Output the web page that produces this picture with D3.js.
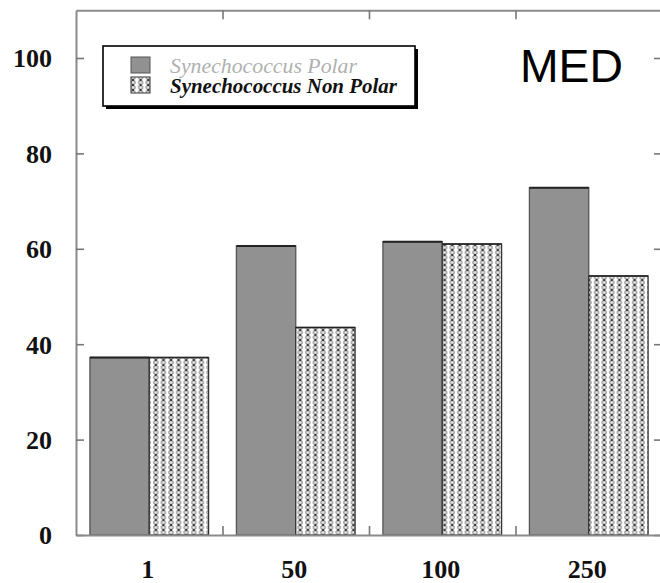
<!DOCTYPE html>
<html><head><meta charset="utf-8">
<script src="https://cdn.jsdelivr.net/npm/d3@7"></script>
<style>body{margin:0;background:#fff}svg{display:block}</style>
</head><body>
<svg id="c" width="660" height="583"></svg>
<script>
const categories = ["1", "50", "100", "250"];
const polar = [37.2, 60.6, 61.5, 72.8];
const nonPolar = [37.2, 43.5, 61.0, 54.3];
const yTicks = [0, 20, 40, 60, 80, 100];
const seriesNames = ["Synechococcus Polar", "Synechococcus Non Polar"];
const panelLabel = "MED";

const svg = d3.select("#c");
const L = 76, R = 662, T = 10.3, B = 535;
const x = d3.scaleBand().domain(categories).range([L, R]).padding(0);
const y = d3.scaleLinear().domain([0, 110]).range([B, T]);

const defs = svg.append("defs");
const pw = 7.6, ph = 5;
const pat = defs.append("pattern").attr("id", "dots").attr("patternUnits", "userSpaceOnUse")
  .attr("width", pw).attr("height", ph);
pat.append("rect").attr("width", pw).attr("height", ph).attr("fill", "#fff");
pat.append("ellipse").attr("cx", pw / 2).attr("cy", ph / 2).attr("rx", 2.1).attr("ry", 1.9)
  .attr("fill", "#e6e6e6").attr("stroke", "#8c8c8c").attr("stroke-width", 1.1);
pat.append("circle").attr("cx", pw / 2).attr("cy", 0).attr("r", 1).attr("fill", "#222");
pat.append("circle").attr("cx", pw / 2).attr("cy", ph).attr("r", 1).attr("fill", "#222");

const bw = x.bandwidth();
const barW = bw * 0.405;
const off = (bw - 2 * barW) / 2;

// bars
const g = svg.append("g");
g.selectAll("rect.p").data(categories).join("rect").attr("class", "p")
  .attr("x", d => x(d) + off).attr("width", barW)
  .attr("y", (d, i) => y(polar[i])).attr("height", (d, i) => B - y(polar[i]))
  .attr("fill", "#919191").attr("stroke", "#555").attr("stroke-width", 1.3);
g.selectAll("rect.n").data(categories).join("rect").attr("class", "n")
  .attr("x", d => x(d) + off + barW).attr("width", barW)
  .attr("y", (d, i) => y(nonPolar[i])).attr("height", (d, i) => B - y(nonPolar[i]))
  .attr("fill", "url(#dots)").attr("stroke", "#333").attr("stroke-width", 1.3);
// darker top edges
g.selectAll("line.pt").data(categories).join("line").attr("class", "pt")
  .attr("x1", d => x(d) + off).attr("x2", d => x(d) + off + barW)
  .attr("y1", (d, i) => y(polar[i])).attr("y2", (d, i) => y(polar[i]))
  .attr("stroke", "#222").attr("stroke-width", 2);
g.selectAll("line.nt").data(categories).join("line").attr("class", "nt")
  .attr("x1", d => x(d) + off + barW).attr("x2", d => x(d) + off + 2 * barW)
  .attr("y1", (d, i) => y(nonPolar[i])).attr("y2", (d, i) => y(nonPolar[i]))
  .attr("stroke", "#222").attr("stroke-width", 1.6);

// axes frame
const frameColor = "#8a8a8a";
function styleAxis(sel) {
  sel.selectAll(".domain").attr("stroke", frameColor).attr("stroke-width", 2);
  sel.selectAll(".tick line").attr("stroke", "#777").attr("stroke-width", 1.6);
}
const yAxis = svg.append("g").attr("transform", `translate(${L},0)`)
  .call(d3.axisLeft(y).tickValues(yTicks).tickSize(-8).tickSizeOuter(0).tickPadding(24));
styleAxis(yAxis);
yAxis.selectAll("text").attr("font-family", "Liberation Serif, Times New Roman, serif")
  .attr("font-weight", "bold").attr("font-size", 26).attr("fill", "#111").attr("dy", "0.34em");

const yAxisR = svg.append("g").attr("transform", `translate(${R},0)`)
  .call(d3.axisRight(y).tickValues(yTicks).tickSize(-8).tickSizeOuter(0).tickFormat(""));
styleAxis(yAxisR);
yAxisR.select(".domain").attr("stroke", "none");

const xEdges = x.domain().map(d => x(d));
const xb = d3.scaleLinear().domain([L, R]).range([L, R]);
const edgeTicks = xEdges.slice(1);
const xAxisB = svg.append("g").attr("transform", `translate(0,${B})`)
  .call(d3.axisBottom(xb).tickValues(edgeTicks).tickSize(-9).tickSizeOuter(0).tickFormat(""));
styleAxis(xAxisB);
const xAxisT = svg.append("g").attr("transform", `translate(0,${T})`)
  .call(d3.axisTop(xb).tickValues(edgeTicks).tickSize(-9).tickSizeOuter(0).tickFormat(""));
styleAxis(xAxisT);

// category labels
svg.append("g").selectAll("text").data(categories).join("text")
  .attr("x", d => x(d) + bw / 2 - 1.5).attr("y", 578)
  .attr("text-anchor", "middle")
  .attr("font-family", "Liberation Serif, Times New Roman, serif")
  .attr("font-weight", "bold").attr("font-size", 26).attr("fill", "#111")
  .text(d => d);

// legend
const lg = svg.append("g");
lg.append("rect").attr("x", 106).attr("y", 49).attr("width", 312).attr("height", 60).attr("fill", "#000");
lg.append("rect").attr("x", 103).attr("y", 46).attr("width", 312).attr("height", 60)
  .attr("fill", "#fff").attr("stroke", "#000").attr("stroke-width", 1.6);
lg.append("rect").attr("x", 131).attr("y", 57).attr("width", 19).attr("height", 16)
  .attr("fill", "#919191").attr("stroke", "#555").attr("stroke-width", 1);
lg.append("rect").attr("x", 131).attr("y", 77).attr("width", 19).attr("height", 16)
  .attr("fill", "url(#dots)").attr("stroke", "#333").attr("stroke-width", 1);
lg.append("text").attr("x", 170).attr("y", 72.5)
  .attr("font-family", "Liberation Serif, Times New Roman, serif").attr("font-style", "italic")
  .attr("font-size", 20).attr("fill", "#b0b0b0").attr("textLength", 187).attr("lengthAdjust", "spacingAndGlyphs")
  .text(seriesNames[0]);
lg.append("text").attr("x", 170).attr("y", 92.5)
  .attr("font-family", "Liberation Serif, Times New Roman, serif").attr("font-style", "italic")
  .attr("font-weight", "bold")
  .attr("font-size", 20).attr("fill", "#111").attr("textLength", 227).attr("lengthAdjust", "spacingAndGlyphs")
  .text(seriesNames[1]);

svg.append("text").attr("x", 520).attr("y", 82)
  .attr("font-family", "Liberation Sans, Arial, sans-serif").attr("font-size", 47).attr("fill", "#000")
  .attr("textLength", 103).attr("lengthAdjust", "spacingAndGlyphs")
  .text(panelLabel);
</script>
</body></html>
